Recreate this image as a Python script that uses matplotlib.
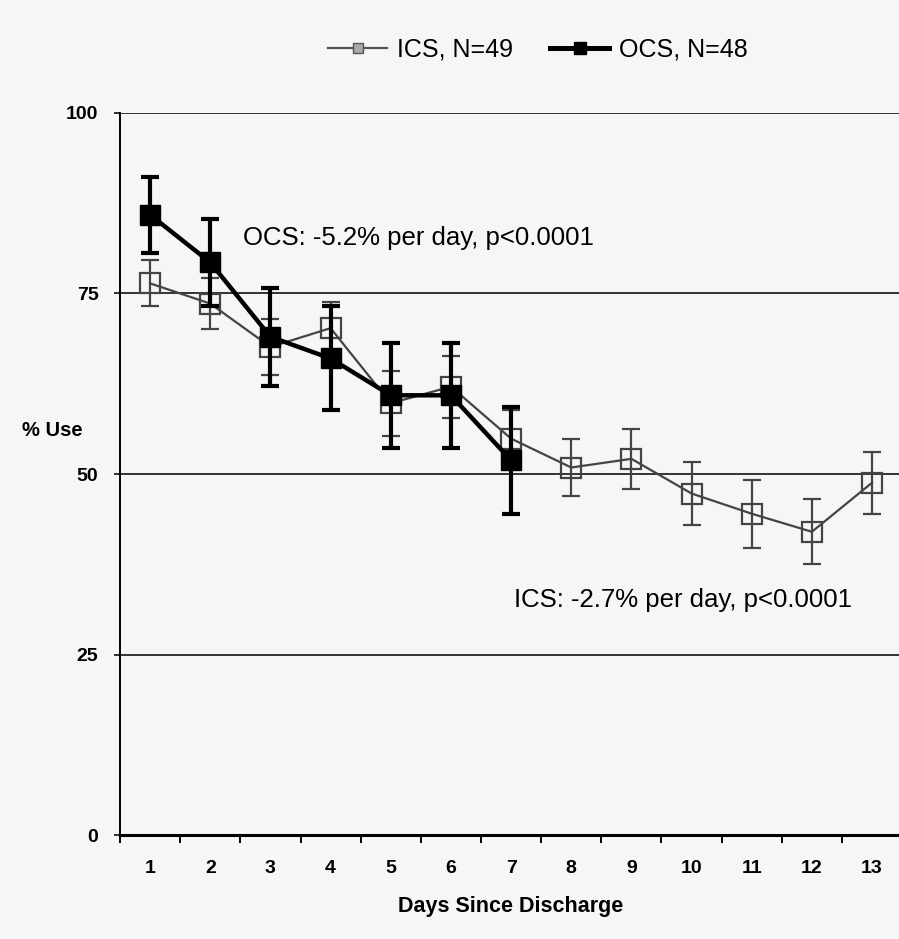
import numpy as np
import matplotlib.pyplot as plt
from matplotlib.lines import Line2D

plt.rcParams['font.family'] = ['Liberation Sans', 'DejaVu Sans']

# values (% use by day since discharge)
days = np.arange(1, 14)
ics_mean = [76.4, 73.6, 67.6, 70.2, 59.8, 62.1, 54.9, 50.9, 52.1, 47.3, 44.5, 42.0, 48.8]
ics_err = [3.2, 3.5, 3.9, 3.6, 4.5, 4.3, 4.0, 4.0, 4.2, 4.4, 4.7, 4.5, 4.3]
ocs_days = np.arange(1, 8)
ocs_mean = [85.9, 79.3, 69.0, 66.0, 60.9, 60.9, 51.9]
ocs_err = [5.3, 6.0, 6.8, 7.2, 7.3, 7.3, 7.4]
yticks = [0, 25, 50, 75, 100]

fig = plt.figure(figsize=(8.99, 9.39), dpi=100, facecolor='#f6f6f4')
ax = fig.add_axes([0.1335, 0.1107, 0.87, 0.769])
ax.set_facecolor('#f6f6f4')

# horizontal rules at the labelled levels
for yv in yticks[1:]:
    ax.axhline(yv, color='#333333', lw=1.4, zorder=1)

ax.errorbar(days, ics_mean, yerr=ics_err, color='#444444', lw=1.6,
            marker='s', ms=14, mfc='none', mec='#444444', mew=1.6,
            capsize=6.5, capthick=1.6, elinewidth=1.6, zorder=3)
ax.errorbar(ocs_days, ocs_mean, yerr=ocs_err, color='black', lw=3.2,
            marker='s', ms=14.5, mfc='black', mec='black',
            capsize=6.5, capthick=3, elinewidth=3, zorder=4)

ax.set_xlim(0.5, 13.5)
ax.set_ylim(0, 100)
ax.set_yticks(yticks)
ax.set_yticklabels([str(v) for v in yticks], fontsize=14, fontweight='bold')
ax.tick_params(axis='y', length=4.5, width=1.4, color='#333333', pad=11)
ax.set_xticks(days)
ax.set_xticklabels([str(d) for d in days], fontsize=14, fontweight='bold')
ax.set_xticks(np.arange(0.5, 14, 1), minor=True)
ax.tick_params(axis='x', which='major', length=0, pad=18)
ax.tick_params(axis='x', which='minor', length=6, width=1.4)

for s in ['top', 'right']:
    ax.spines[s].set_visible(False)
ax.spines['left'].set_linewidth(1.4)
ax.spines['bottom'].set_linewidth(2.2)

ax.set_xlabel('Days Since Discharge', fontsize=15.5, fontweight='bold', labelpad=14)
fig.text(0.025, 0.542, '% Use', fontsize=14.5, fontweight='bold', va='center')

ax.text(2.55, 82.7, 'OCS: -5.2% per day, p<0.0001', fontsize=18.5, va='center')
ax.text(7.05, 32.5, 'ICS: -2.7% per day, p<0.0001', fontsize=18.5, va='center')

handles = [
    Line2D([], [], color='#555555', lw=1.6, marker='s', ms=7, mfc='#aaaaaa', mec='#555555'),
    Line2D([], [], color='black', lw=3.6, marker='s', ms=8, mfc='black'),
]
fig.legend(handles, ['ICS, N=49', 'OCS, N=48'], loc='center left', ncol=2,
           bbox_to_anchor=(0.34, 0.947), frameon=False, fontsize=18,
           handlelength=2.35, handletextpad=0.4, columnspacing=1.5)

fig.savefig('out.png', dpi=100, facecolor=fig.get_facecolor())
